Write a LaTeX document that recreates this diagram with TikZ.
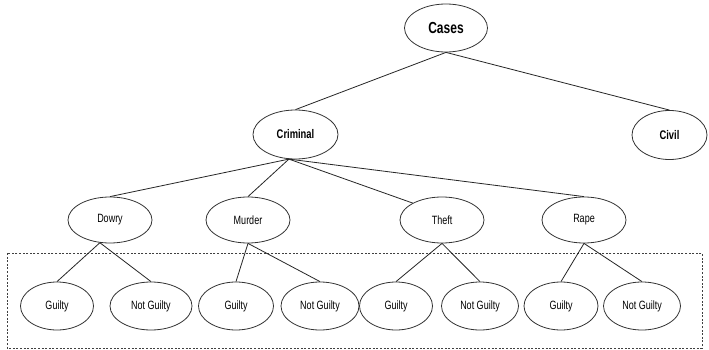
\documentclass[tikz,border=0pt]{standalone}
\usepackage{fontspec}
\setmainfont{Liberation Sans}[FakeStretch=0.75]
\usetikzlibrary{shapes.geometric}

\tikzset{
  oval/.style={ellipse, draw=black!80, line width=0.8pt, inner sep=0pt},
  toplevel/.style={oval, minimum width=83pt, minimum height=48pt,
    font=\fontsize{16}{18}\selectfont\bfseries},
  midlevel/.style={oval, minimum height=49pt,
    font=\fontsize{12.5}{14}\selectfont\bfseries},
  crime/.style={oval, minimum width=84pt, minimum height=46pt,
    font=\fontsize{12}{14}\selectfont},
  verdict/.style={oval, minimum height=48pt,
    font=\fontsize{12}{14}\selectfont},
  link/.style={draw=black!85, line width=0.8pt},
  groupbox/.style={draw=black!75, line width=0.7pt, dash pattern=on 2pt off 1.6pt}
}

\begin{document}
\begin{tikzpicture}[x=1pt, y=-1pt]
  \useasboundingbox[fill=white] (0,0) rectangle (709,350);

  % dashed frame round the verdict level
  \draw[groupbox] (7,253) rectangle (702,348);

  % root and case types
  \node[toplevel] (cases) at (446,28) {Cases};
  \node[midlevel, minimum width=85pt] (criminal) at (295.5,134.5) {Criminal};
  \node[midlevel, minimum width=75pt] (civil) at (669.5,135) {Civil};

  % kinds of criminal case
  \node[crime] (dowry)  at (110,220) {Dowry};
  \node[crime] (murder) at (248,220) {Murder};
  \node[crime] (theft)  at (442,220) {Theft};
  \node[crime] (rape)   at (584,220) {Rape};

  % verdicts
  \node[verdict, minimum width=73pt] (g1)  at (57,306)  {Guilty};
  \node[verdict, minimum width=82pt] (ng1) at (151,306) {Not Guilty};
  \node[verdict, minimum width=75pt] (g2)  at (236,306) {Guilty};
  \node[verdict, minimum width=78pt] (ng2) at (320,306) {Not Guilty};
  \node[verdict, minimum width=73pt] (g3)  at (396,306) {Guilty};
  \node[verdict, minimum width=77pt] (ng3) at (480,306) {Not Guilty};
  \node[verdict, minimum width=74pt] (g4)  at (561,306) {Guilty};
  \node[verdict, minimum width=77pt] (ng4) at (642,306) {Not Guilty};

  % connectors
  \draw[link] (cases.south) -- (criminal.north);
  \draw[link] (cases.south) -- (civil.north);

  \draw[link] (criminal.-105) -- (dowry.north);
  \draw[link] (criminal.-105) -- (murder.north);
  \draw[link] (criminal.-105) -- (theft.150);
  \draw[link] (criminal.-105) -- (rape.north);

  \draw[link] (dowry.-114) -- (g1.north);
  \draw[link] (dowry.-114) -- (ng1.north);
  \draw[link] (murder.south) -- (g2.north);
  \draw[link] (murder.south) -- (ng2.north);
  \draw[link] (theft.south) -- (g3.north);
  \draw[link] (theft.south) -- (ng3.north);
  \draw[link] (rape.south) -- (g4.north);
  \draw[link] (rape.south) -- (ng4.north);
\end{tikzpicture}
\end{document}
